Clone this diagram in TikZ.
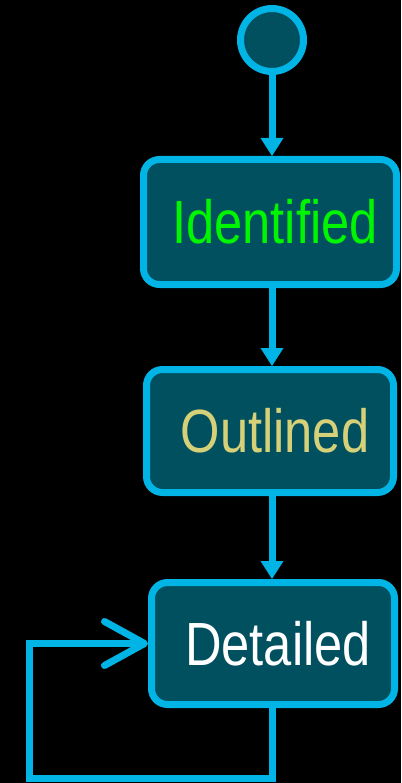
\documentclass[tikz,border=0pt]{standalone}
\usepackage{fontspec}
\usetikzlibrary{arrows.meta}
\newfontfamily\narrowfont[FakeStretch=0.83]{Liberation Sans}
\definecolor{stateedge}{RGB}{0,181,230}
\definecolor{statefill}{RGB}{0,80,96}
\definecolor{idgreen}{RGB}{0,245,0}
\definecolor{outlinedkhaki}{RGB}{214,208,120}
\tikzset{
	state/.style={draw=stateedge, fill=statefill, line width=7pt, rounded corners=16pt, inner sep=0pt, font=\narrowfont\fontsize{61}{70}\selectfont, execute at begin node={\hspace*{10pt}}},
	flow/.style={draw=stateedge, line width=7pt, -{Triangle[length=18pt,width=23pt,line width=0pt]}},
	selfflow/.style={draw=stateedge, line width=7pt, -{Straight Barb[length=40pt,width=44pt,round]}}
}
\begin{document}
	\begin{tikzpicture}[x=1pt,y=-1pt]
		\fill[black] (0,0) rectangle (401,783);
		\useasboundingbox (0,0) rectangle (401,783);
		\node[circle, draw=stateedge, fill=statefill, line width=7pt, minimum size=63pt] (init) at (272,40) {};
		\node[state, text=idgreen, minimum width=253pt, minimum height=125pt] (identified) at (270,222) {Identified};
		\node[state, text=outlinedkhaki, minimum width=247pt, minimum height=123pt] (outlined) at (270,431) {Outlined};
		\node[state, text=white, minimum width=243pt, minimum height=122pt] (detailed) at (273,643.5) {Detailed};
		\coordinate (loopcorner) at (29.5,778);
		\draw[flow] (init.south) -- (identified.north -| init.south);
		\draw[flow] (identified.south -| init.south) -- (outlined.north -| init.south);
		\draw[flow] (outlined.south -| init.south) -- (detailed.north -| init.south);
		\draw[selfflow] (detailed.south -| init.south) |- (loopcorner) |- (detailed.west);
	\end{tikzpicture}
\end{document}
